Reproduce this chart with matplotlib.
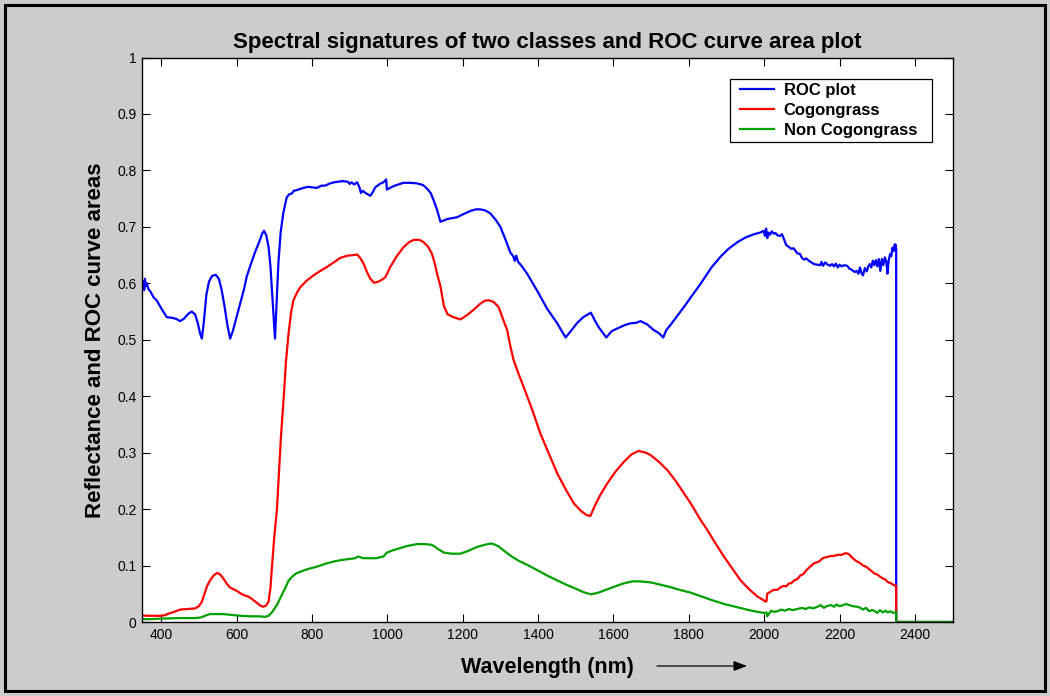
import matplotlib
matplotlib.use("Agg")
import matplotlib.pyplot as plt
from matplotlib.patches import Rectangle, FancyArrowPatch
from matplotlib.lines import Line2D
from matplotlib.legend_handler import HandlerLine2D

plt.rcParams['font.family'] = ['Liberation Sans', 'DejaVu Sans']

# ROC curve area per wavelength
roc_wl = [350, 353, 355, 357, 359, 362, 366, 372, 380, 388, 400, 415, 428, 440, 450, 460, 472, 481,
          490, 497, 503, 508, 513, 520, 527, 535, 545, 553, 560, 568, 576, 583, 590, 600, 610, 620,
          627, 637, 649, 660, 668, 673, 679, 685, 690, 696, 700, 702, 706, 711, 717, 724, 733, 740,
          747, 752, 760, 768, 778, 790, 800, 813, 825, 835, 848, 860, 880, 895, 900, 905, 912, 920,
          926, 930, 935, 942, 950, 955, 962, 968, 980, 990, 997, 999, 1010, 1020, 1043, 1060, 1079,
          1095, 1105, 1115, 1123, 1132, 1141, 1160, 1185, 1200, 1220, 1235, 1247, 1260, 1273, 1287,
          1300, 1315, 1326, 1334, 1338, 1342, 1347, 1355, 1371, 1400, 1424, 1450, 1473, 1490, 1504,
          1520, 1540, 1550, 1561, 1581, 1595, 1610, 1630, 1645, 1660, 1672, 1690, 1707, 1720, 1732,
          1740, 1751, 1770, 1787, 1805, 1831, 1840, 1860, 1884, 1905, 1929, 1950, 1973, 1990, 1998,
          2002, 2005, 2008, 2011, 2015, 2020, 2025, 2030, 2035, 2042, 2047, 2052, 2058, 2066, 2072,
          2078, 2088, 2095, 2100, 2106, 2112, 2118, 2125, 2132, 2141, 2148, 2152, 2156, 2162, 2168,
          2174, 2180, 2185, 2190, 2195, 2200, 2205, 2212, 2220, 2226, 2232, 2240, 2245, 2250, 2254,
          2258, 2262, 2267, 2272, 2276, 2280, 2284, 2288, 2292, 2296, 2300, 2304, 2308, 2312, 2316,
          2320, 2324, 2327, 2330, 2334, 2337, 2340, 2343, 2346, 2349, 2350, 2350, 2500]
roc_val = [0.590, 0.603, 0.588, 0.608, 0.595, 0.600, 0.590, 0.585, 0.575, 0.570, 0.556, 0.540, 0.539,
           0.537, 0.533, 0.537, 0.546, 0.550, 0.545, 0.530, 0.512, 0.502, 0.530, 0.580, 0.603, 0.613,
           0.615, 0.608, 0.590, 0.560, 0.525, 0.502, 0.515, 0.540, 0.565, 0.590, 0.612, 0.632, 0.655,
           0.673, 0.688, 0.693, 0.685, 0.664, 0.630, 0.565, 0.520, 0.502, 0.560, 0.635, 0.690, 0.724,
           0.752, 0.758, 0.759, 0.764, 0.765, 0.767, 0.769, 0.771, 0.770, 0.769, 0.773, 0.773, 0.777,
           0.779, 0.781, 0.780, 0.776, 0.779, 0.775, 0.779, 0.770, 0.760, 0.764, 0.760, 0.757, 0.755,
           0.762, 0.770, 0.776, 0.779, 0.784, 0.766, 0.770, 0.773, 0.778, 0.778, 0.777, 0.774, 0.768,
           0.760, 0.747, 0.730, 0.709, 0.714, 0.717, 0.722, 0.728, 0.731, 0.731, 0.729, 0.724, 0.713,
           0.700, 0.675, 0.655, 0.648, 0.640, 0.649, 0.638, 0.632, 0.617, 0.584, 0.555, 0.530, 0.504,
           0.518, 0.530, 0.540, 0.548, 0.535, 0.522, 0.504, 0.515, 0.520, 0.526, 0.529, 0.530, 0.533,
           0.527, 0.517, 0.512, 0.504, 0.517, 0.526, 0.543, 0.558, 0.575, 0.599, 0.608, 0.628, 0.647,
           0.661, 0.673, 0.681, 0.687, 0.690, 0.693, 0.684, 0.697, 0.680, 0.690, 0.686, 0.692, 0.688,
           0.689, 0.685, 0.684, 0.687, 0.679, 0.668, 0.664, 0.661, 0.662, 0.653, 0.652, 0.645, 0.642,
           0.644, 0.640, 0.637, 0.634, 0.633, 0.632, 0.638, 0.631, 0.637, 0.633, 0.631, 0.634, 0.630,
           0.635, 0.628, 0.633, 0.630, 0.632, 0.631, 0.626, 0.624, 0.620, 0.622, 0.617, 0.628, 0.618,
           0.614, 0.627, 0.621, 0.630, 0.634, 0.628, 0.640, 0.632, 0.641, 0.630, 0.643, 0.622, 0.643,
           0.632, 0.646, 0.638, 0.617, 0.640, 0.652, 0.648, 0.663, 0.657, 0.669, 0.668, 0.660, 0.0, 0.0]

# Mean reflectance, Cogongrass
cog_wl = [350, 360, 380, 400, 410, 420, 435, 450, 470, 490, 500, 508, 515, 522, 530, 540, 549, 557,
          565, 574, 583, 592, 601, 610, 618, 626, 632, 642, 654, 663, 671, 678, 685, 690, 694, 700,
          707, 713, 718, 725, 731, 738, 745, 751, 760, 769, 785, 804, 820, 840, 858, 875, 895, 910,
          920, 928, 937, 946, 955, 965, 973, 985, 995, 1008, 1025, 1043, 1058, 1070, 1085, 1096, 1108,
          1118, 1126, 1132, 1141, 1150, 1160, 1175, 1194, 1210, 1229, 1245, 1258, 1269, 1282, 1295,
          1305, 1318, 1326, 1335, 1348, 1362, 1385, 1406, 1430, 1451, 1475, 1495, 1515, 1530, 1539,
          1550, 1565, 1583, 1605, 1628, 1648, 1667, 1685, 1698, 1720, 1743, 1765, 1787, 1805, 1831,
          1849, 1870, 1893, 1915, 1937, 1960, 1982, 1995, 2004, 2006, 2008, 2015, 2025, 2035, 2044,
          2052, 2058, 2065, 2072, 2080, 2088, 2095, 2104, 2112, 2120, 2132, 2145, 2155, 2165, 2177,
          2185, 2195, 2205, 2216, 2225, 2232, 2240, 2247, 2255, 2262, 2270, 2278, 2285, 2292, 2300,
          2308, 2315, 2322, 2327, 2335, 2342, 2350, 2350, 2500]
cog_val = [0.012, 0.011, 0.011, 0.011, 0.012, 0.015, 0.018, 0.022, 0.023, 0.024, 0.028, 0.036, 0.050,
           0.064, 0.074, 0.083, 0.087, 0.084, 0.077, 0.068, 0.061, 0.058, 0.055, 0.051, 0.048, 0.046,
           0.045, 0.040, 0.034, 0.029, 0.027, 0.029, 0.036, 0.060, 0.098, 0.150, 0.198, 0.270, 0.330,
           0.396, 0.460, 0.511, 0.550, 0.570, 0.583, 0.593, 0.604, 0.614, 0.621, 0.629, 0.637, 0.645,
           0.649, 0.650, 0.651, 0.645, 0.635, 0.620, 0.608, 0.601, 0.602, 0.606, 0.611, 0.629, 0.648,
           0.664, 0.673, 0.677, 0.677, 0.673, 0.665, 0.653, 0.635, 0.617, 0.595, 0.560, 0.545, 0.540,
           0.536, 0.543, 0.553, 0.563, 0.569, 0.570, 0.567, 0.558, 0.540, 0.517, 0.490, 0.464, 0.440,
           0.416, 0.375, 0.334, 0.296, 0.263, 0.233, 0.210, 0.196, 0.189, 0.188, 0.205, 0.225, 0.245,
           0.266, 0.284, 0.297, 0.303, 0.300, 0.296, 0.284, 0.269, 0.250, 0.228, 0.210, 0.181, 0.163,
           0.140, 0.116, 0.095, 0.074, 0.058, 0.045, 0.040, 0.036, 0.037, 0.050, 0.053, 0.057, 0.057,
           0.062, 0.064, 0.063, 0.068, 0.069, 0.074, 0.076, 0.082, 0.085, 0.092, 0.097, 0.104, 0.107,
           0.113, 0.115, 0.117, 0.117, 0.119, 0.119, 0.122, 0.120, 0.115, 0.110, 0.107, 0.104, 0.100,
           0.098, 0.094, 0.090, 0.086, 0.084, 0.080, 0.077, 0.075, 0.071, 0.069, 0.066, 0.064, 0.0, 0.0]

# Mean reflectance, Non Cogongrass
non_wl = [350, 370, 400, 450, 490, 505, 520, 530, 550, 565, 580, 595, 610, 640, 663, 675, 685, 695,
          707, 718, 729, 738, 747, 758, 769, 790, 813, 835, 857, 880, 902, 915, 922, 928, 935, 946,
          970, 990, 999, 1015, 1034, 1055, 1079, 1100, 1115, 1123, 1135, 1150, 1170, 1194, 1215,
          1238, 1260, 1275, 1282, 1295, 1310, 1330, 1350, 1375, 1400, 1425, 1450, 1475, 1500, 1520,
          1540, 1560, 1580, 1600, 1625, 1650, 1670, 1700, 1725, 1750, 1775, 1805, 1830, 1860, 1893,
          1930, 1960, 1982, 2000, 2006, 2008, 2012, 2018, 2025, 2035, 2045, 2055, 2065, 2075, 2088,
          2100, 2110, 2120, 2130, 2141, 2150, 2158, 2165, 2177, 2185, 2192, 2200, 2210, 2216, 2225,
          2235, 2247, 2255, 2262, 2270, 2278, 2285, 2292, 2300, 2307, 2315, 2322, 2327, 2335, 2342,
          2350, 2350, 2500]
non_val = [0.005, 0.005, 0.006, 0.007, 0.007, 0.008, 0.012, 0.014, 0.014, 0.014, 0.013, 0.012, 0.011,
           0.010, 0.010, 0.009, 0.011, 0.018, 0.030, 0.045, 0.060, 0.073, 0.080, 0.086, 0.089, 0.094,
           0.098, 0.103, 0.107, 0.110, 0.112, 0.113, 0.116, 0.115, 0.113, 0.113, 0.113, 0.116, 0.123,
           0.127, 0.131, 0.135, 0.138, 0.138, 0.137, 0.135, 0.129, 0.123, 0.121, 0.121, 0.126, 0.133,
           0.137, 0.139, 0.138, 0.134, 0.126, 0.116, 0.108, 0.100, 0.091, 0.082, 0.074, 0.066, 0.059,
           0.053, 0.049, 0.052, 0.057, 0.062, 0.068, 0.072, 0.072, 0.070, 0.066, 0.062, 0.057, 0.052,
           0.046, 0.039, 0.032, 0.026, 0.021, 0.018, 0.016, 0.017, 0.010, 0.014, 0.020, 0.018, 0.019,
           0.022, 0.020, 0.023, 0.021, 0.023, 0.025, 0.023, 0.026, 0.024, 0.027, 0.030, 0.025, 0.028,
           0.030, 0.027, 0.031, 0.028, 0.030, 0.032, 0.030, 0.028, 0.027, 0.025, 0.022, 0.025, 0.019,
           0.021, 0.020, 0.016, 0.021, 0.017, 0.020, 0.017, 0.019, 0.016, 0.018, 0.0, 0.0]

x_ticks = [400, 600, 800, 1000, 1200, 1400, 1600, 1800, 2000, 2200, 2400]
y_ticks = [0, 0.1, 0.2, 0.3, 0.4, 0.5, 0.6, 0.7, 0.8, 0.9, 1]
y_ticklabels = ['0', '0.1', '0.2', '0.3', '0.4', '0.5', '0.6', '0.7', '0.8', '0.9', '1']

W, H = 1050, 696
fig = plt.figure(figsize=(W / 100, H / 100), dpi=100, facecolor='#cccccc')

# outer frame of the figure
fig.add_artist(Rectangle((5 / W, 5 / H), 1040 / W, 686 / H, transform=fig.transFigure,
                         fill=False, edgecolor='black', linewidth=2.2))

ax = fig.add_axes([142.3 / W, 1 - 622 / H, 810.4 / W, 564.5 / H])
ax.set_facecolor('white')

lw = 1.6
ax.plot(roc_wl, roc_val, color='#0000ff', lw=lw, label='ROC plot')
ax.plot(cog_wl, cog_val, color='#ff0000', lw=lw, label='Cogongrass')
ax.plot(non_wl, non_val, color='#00a000', lw=lw, label='Non Cogongrass')

ax.set_xlim(350, 2500)
ax.set_ylim(0, 1)
ax.set_xticks(x_ticks)
ax.set_yticks(y_ticks)
ax.set_yticklabels(y_ticklabels)
ax.tick_params(direction='in', length=5.8, width=0.8, top=True, right=True,
               labelsize=10, pad=4, colors='black')
for s in ax.spines.values():
    s.set_linewidth(1.0)
    s.set_color('black')

ax.set_title('Spectral signatures of two classes and ROC curve area plot',
             fontsize=16, fontweight='bold', pad=7)
ax.set_xlabel('Wavelength (nm)', fontsize=15.5, fontweight='bold', labelpad=11)
ax.set_ylabel('Reflectance and ROC curve areas', fontsize=16, fontweight='bold', labelpad=8)

# legend box spanning a fixed width in the upper right corner
leg_left, leg_top, leg_w = 0.7252, 0.962, 0.2493
leg = ax.legend(loc='upper left', bbox_to_anchor=(leg_left, leg_top - 0.12, leg_w, 0.12),
                mode='expand', borderaxespad=0,
                fancybox=False, framealpha=1, edgecolor='black',
                prop={'weight': 'bold', 'size': 12}, handlelength=2.35,
                handler_map={Line2D: HandlerLine2D(xpad=0.35)},
                labelspacing=0.28, borderpad=0.26, handletextpad=0.6)
leg.get_frame().set_linewidth(0.9)

# arrow next to the x-axis label
fig.add_artist(FancyArrowPatch(
    (657 / W, 1 - 666 / H), (747 / W, 1 - 666 / H), transform=fig.transFigure,
    arrowstyle='-|>,head_length=8,head_width=3', color='black', lw=0.9,
    shrinkA=0, shrinkB=0))

fig.savefig('out.png', dpi=100, facecolor=fig.get_facecolor())
